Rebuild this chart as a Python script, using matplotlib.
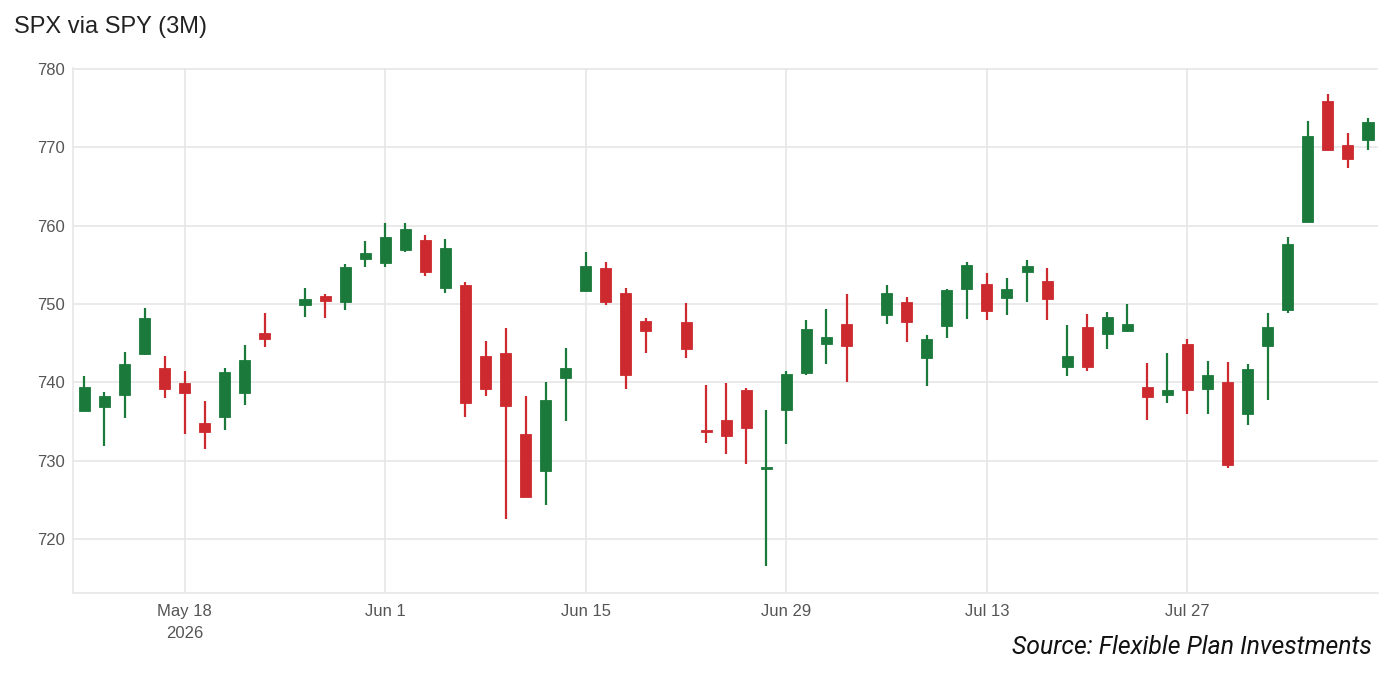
'''SPX via SPY (3M) daily candlestick chart.'''
# pylint: disable=invalid-name
import matplotlib
matplotlib.use('Agg')
import matplotlib.pyplot as plt
import pandas as pd

GREEN = '#1b7a3b'
RED = '#cc2a2e'
GRID = '#e6e6e6'
TEXT = '#555555'

DATES = ['2026-05-11', '2026-05-12', '2026-05-13', '2026-05-14', '2026-05-15',
         '2026-05-18', '2026-05-19', '2026-05-20', '2026-05-21', '2026-05-22',
         '2026-05-26', '2026-05-27', '2026-05-28', '2026-05-29',
         '2026-06-01', '2026-06-02', '2026-06-03', '2026-06-04', '2026-06-05',
         '2026-06-08', '2026-06-09', '2026-06-10', '2026-06-11', '2026-06-12',
         '2026-06-15', '2026-06-16', '2026-06-17', '2026-06-18',
         '2026-06-22', '2026-06-23', '2026-06-24', '2026-06-25', '2026-06-26',
         '2026-06-29', '2026-06-30', '2026-07-01', '2026-07-02',
         '2026-07-06', '2026-07-07', '2026-07-08', '2026-07-09', '2026-07-10',
         '2026-07-13', '2026-07-14', '2026-07-15', '2026-07-16', '2026-07-17',
         '2026-07-20', '2026-07-21', '2026-07-22', '2026-07-23', '2026-07-24',
         '2026-07-27', '2026-07-28', '2026-07-29', '2026-07-30', '2026-07-31',
         '2026-08-03', '2026-08-04', '2026-08-05', '2026-08-06', '2026-08-07']

OPENS = [736.4, 736.8, 738.4, 743.6, 741.8,
         739.9, 734.8, 735.6, 738.6, 746.3,
         749.9, 751.0, 750.2, 755.8,
         755.3, 756.9, 758.2, 752.0, 752.4,
         743.4, 743.7, 733.4, 728.7, 740.6,
         751.7, 754.6, 751.4, 747.8,
         747.7, 733.9, 735.2, 739.0, 728.9,
         736.5, 741.2, 744.9, 747.4,
         748.6, 750.3, 743.1, 747.2, 751.9,
         752.6, 750.8, 754.1, 752.9, 742.0,
         747.1, 746.2, 746.6, 739.4, 738.4,
         744.9, 739.1, 740.0, 736.0, 744.6,
         749.3, 760.5, 775.9, 770.3, 770.9]

HIGHS = [740.8, 738.8, 743.9, 749.5, 743.4,
         741.4, 737.6, 741.8, 744.8, 748.9,
         752.1, 751.3, 755.1, 758.0,
         760.3, 760.3, 758.8, 758.3, 752.8,
         745.3, 746.9, 738.3, 740.0, 744.4,
         756.6, 755.4, 752.1, 748.2,
         750.1, 739.6, 739.9, 739.3, 736.5,
         741.5, 748.0, 749.4, 751.3,
         752.4, 750.9, 746.1, 751.9, 755.4,
         753.9, 753.3, 755.6, 754.6, 747.3,
         748.7, 749.0, 750.0, 742.5, 743.7,
         745.5, 742.7, 742.6, 742.3, 748.9,
         758.6, 773.4, 776.8, 771.8, 773.8]

LOWS = [736.3, 731.9, 735.5, 743.5, 738.0,
        733.4, 731.5, 733.9, 737.1, 744.5,
        748.4, 748.2, 749.2, 754.7,
        754.7, 756.7, 753.6, 751.4, 735.6,
        738.2, 722.6, 725.3, 724.4, 735.1,
        751.6, 749.9, 739.2, 743.8,
        743.1, 732.3, 730.9, 729.6, 716.6,
        732.1, 740.9, 742.3, 740.0,
        747.4, 745.2, 739.5, 745.6, 748.1,
        748.0, 748.6, 750.2, 747.9, 740.8,
        741.5, 744.2, 746.4, 735.2, 737.3,
        735.9, 736.0, 729.1, 734.6, 737.7,
        748.8, 760.5, 769.5, 767.4, 769.7]

CLOSES = [739.4, 738.2, 742.3, 748.2, 739.1,
          738.6, 733.7, 741.3, 742.8, 745.5,
          750.6, 750.4, 754.7, 756.5,
          758.6, 759.6, 754.1, 757.1, 737.4,
          739.2, 737.0, 725.4, 737.8, 741.8,
          754.9, 750.3, 740.9, 746.6,
          744.3, 733.6, 733.2, 734.2, 729.0,
          741.1, 746.8, 745.8, 744.7,
          751.4, 747.7, 745.5, 751.8, 755.0,
          749.1, 751.9, 754.9, 750.6, 743.4,
          742.0, 748.3, 747.5, 738.1, 739.0,
          739.0, 740.9, 729.4, 741.7, 747.1,
          757.7, 771.4, 769.7, 768.5, 773.3]

TICK_DATES = ['2026-05-18', '2026-06-01', '2026-06-15',
              '2026-06-29', '2026-07-13', '2026-07-27']
TICK_LABELS = ['May 18\n2026', 'Jun 1', 'Jun 15', 'Jun 29', 'Jul 13', 'Jul 27']
Y_TICKS = [720, 730, 740, 750, 760, 770, 780]


def main():
    '''Main.'''
    # weekday axis: holidays keep an empty slot, weekends are skipped
    days = pd.bdate_range('2026-05-11', '2026-08-07')
    pos = {d.strftime('%Y-%m-%d'): i for i, d in enumerate(days)}
    x = [pos[d] for d in DATES]

    fig = plt.figure(figsize=(14, 6.85), dpi=100)
    ax = fig.add_axes([0.0524, 0.1343, 0.9319, 0.766])

    for xi, o, h, l, c in zip(x, OPENS, HIGHS, LOWS, CLOSES):
        color = GREEN if c >= o else RED
        ax.vlines(xi, l, h, color=color, linewidth=1.6, zorder=3)
        bottom = min(o, c)
        height = max(abs(c - o), 0.25)
        ax.bar(xi, height, bottom=bottom, width=0.55, color=color,
               edgecolor=color, linewidth=0.6, zorder=4)

    ax.set_xlim(-0.55, 64.5)
    ax.set_ylim(713.1, 780.1)

    ax.set_xticks([pos[d] for d in TICK_DATES])
    ax.set_xticklabels(TICK_LABELS)
    ax.set_yticks(Y_TICKS)
    ax.tick_params(axis='both', length=0, colors=TEXT, labelsize=12)
    ax.tick_params(axis='x', pad=8)
    ax.tick_params(axis='y', pad=6)
    for lab in ax.get_xticklabels() + ax.get_yticklabels():
        lab.set_fontfamily('Liberation Sans')
        lab.set_linespacing(1.55)

    ax.grid(True, color=GRID, linewidth=1.2, zorder=0)
    ax.set_axisbelow(True)

    # set style for spines
    ax.spines['right'].set_color('none')
    ax.spines['top'].set_color('none')
    ax.spines['left'].set_color(GRID)
    ax.spines['bottom'].set_color(GRID)
    ax.spines['left'].set_linewidth(1.2)
    ax.spines['bottom'].set_linewidth(1.2)

    fig.text(14 / 1400, 1 - 27 / 685, 'SPX via SPY (3M)', fontsize=17,
             family='Liberation Sans', color='#222222', va='center', ha='left')
    fig.text(1372 / 1400, 1 - 647 / 685, 'Source: Flexible Plan Investments',
             fontsize=17.8, family='Roboto', style='italic', color='#111111',
             va='center', ha='right')

    fig.savefig('out.png', dpi=100)


if __name__ == "__main__":
    main()
